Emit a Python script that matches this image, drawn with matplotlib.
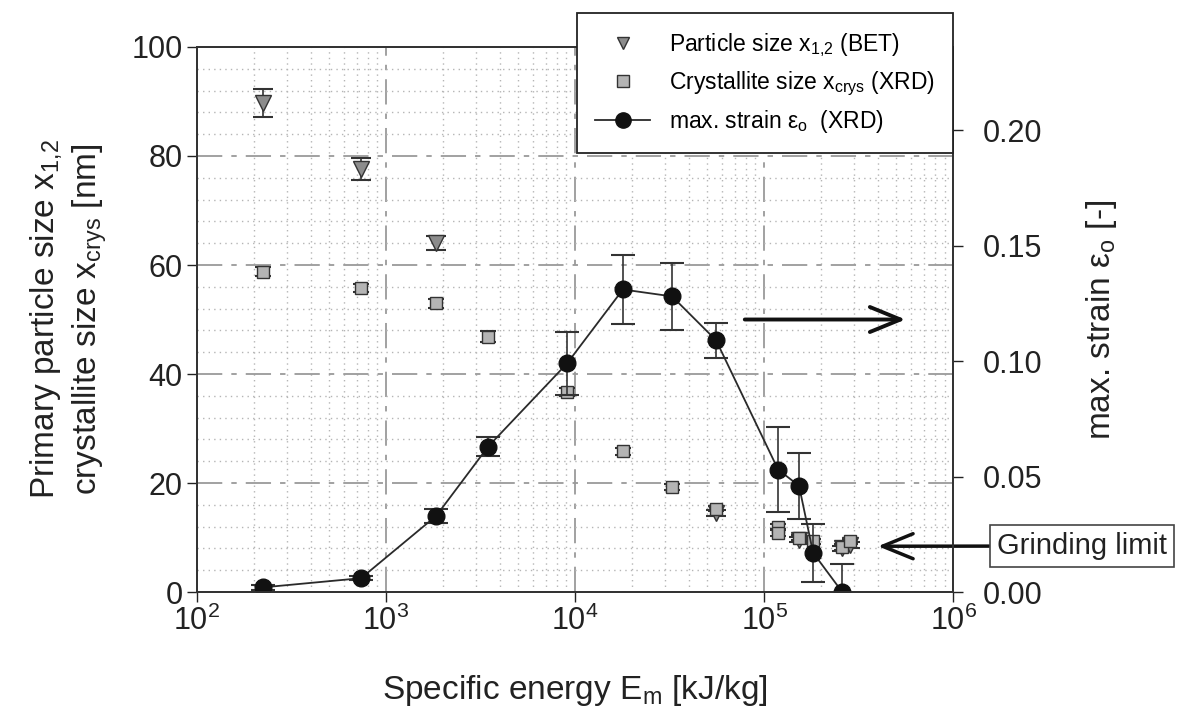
import numpy as np
import matplotlib
matplotlib.use("Agg")
import matplotlib.pyplot as plt
from matplotlib.lines import Line2D
from matplotlib.ticker import LogLocator, MultipleLocator, NullFormatter, FormatStrFormatter

plt.rcParams['font.family'] = ['Liberation Sans', 'DejaVu Sans']
plt.rcParams['mathtext.default'] = 'regular'

# specific energy [kJ/kg]
energy = [222, 738, 1843, 3470, 9070, 17900, 32600, 55700, 118600, 153000, 181600, 259000]

# max. strain (XRD), right axis
strain = [0.002, 0.006, 0.033, 0.063, 0.099, 0.131, 0.128, 0.109, 0.053, 0.046, 0.017, 0.0]
strain_err = [0.001, 0.001, 0.003, 0.004, 0.0137, 0.015, 0.0146, 0.0075, 0.0185, 0.0144, 0.0125, 0.012]

# crystallite size (XRD) [nm]
cryst_e = [222, 738, 1843, 3470, 9070, 17900, 32600, 55700, 118600, 118600, 153000, 181600, 259000, 285000]
cryst = [58.8, 55.8, 53.0, 46.8, 36.7, 25.8, 19.3, 15.3, 12.0, 10.8, 10.0, 9.3, 8.3, 9.3]
cryst_err = [0.8, 0.8, 0.8, 1.0, 0.7, 0.6, 0.6, 0.5, 0.5, 0.5, 0.5, 0.5, 0.5, 0.5]

# particle size x_1,2 (BET) [nm]
bet_e = [222, 738, 1843, 55700, 153000, 259000, 285000]
bet = [89.7, 77.6, 64.0, 14.5, 9.6, 8.0, 8.6]
bet_err = [2.5, 2.0, 1.3, 0.5, 0.5, 0.5, 0.5]

fig = plt.figure(figsize=(11.87, 7.25), dpi=100)
ax = fig.add_axes([0.166, 0.1834, 0.637, 0.7518])
ax2 = ax.twinx()

ax.set_xscale('log')
ax.set_xlim(1e2, 1e6)
ax.set_ylim(0, 100)
ax2.set_ylim(0, 0.236)

# grid
ax.set_axisbelow(True)
ax.xaxis.set_major_locator(LogLocator(base=10, numticks=10))
ax.xaxis.set_minor_locator(LogLocator(base=10, subs=np.arange(2, 10), numticks=20))
ax.xaxis.set_minor_formatter(NullFormatter())
ax.yaxis.set_major_locator(MultipleLocator(20))
ax.yaxis.set_minor_locator(MultipleLocator(4))
ax.grid(which='major', color='#9a9a9a', lw=1.3, linestyle=(0, (14, 5, 3, 5)))
ax.grid(which='minor', color='#b5b5b5', lw=1.0, linestyle=(0, (1, 3)))

ax.tick_params(which='major', direction='out', length=7, width=1, labelsize=22, colors='#222')
ax.tick_params(which='minor', length=0)
ax.tick_params(axis='x', pad=3)
ax2.yaxis.set_major_locator(MultipleLocator(0.05))
ax2.yaxis.set_major_formatter(FormatStrFormatter('%.2f'))
ax2.tick_params(direction='out', length=7, width=1, labelsize=22, colors='#222', pad=14)
for a in (ax, ax2):
    for s in a.spines.values():
        s.set_color('#333')
        s.set_linewidth(1.3)

# data
ax.errorbar(bet_e, bet, yerr=bet_err, fmt='v', ms=11, mfc='#8c8c8c', mec='#333',
            ecolor='#333', elinewidth=1.2, capsize=7, capthick=1.5)
ax.errorbar(cryst_e, cryst, yerr=cryst_err, fmt='s', ms=9, mfc='#b4b4b4', mec='#333',
            ecolor='#333', elinewidth=1.2, capsize=5.5, capthick=1.5)
ax2.errorbar(energy, strain, yerr=strain_err, fmt='-o', color='#2a2a2a', lw=1.3, ms=12,
             mfc='#111', mec='#111', ecolor='#333', elinewidth=1.2, capsize=8.5, capthick=1.5)

ax.set_xlabel('Specific energy E$_m$ [kJ/kg]', fontsize=24, labelpad=26, color='#222')
ax.set_ylabel('Primary particle size x$_{1{,}2}$\ncrystallite size x$_{crys}$ [nm]', fontsize=24,
              labelpad=16, color='#222', linespacing=1.25)
ax2.set_ylabel('max. strain $\\epsilon_o$ [-]', fontsize=24, labelpad=30, color='#222')

# legend
handles = [
    Line2D([], [], ls='none', marker='v', ms=9, mfc='#8c8c8c', mec='#333'),
    Line2D([], [], ls='none', marker='s', ms=8, mfc='#b4b4b4', mec='#333'),
    Line2D([], [], color='#2a2a2a', lw=1.3, marker='o', ms=11, mfc='#111', mec='#111'),
]
labels = ['Particle size x$_{1{,}2}$ (BET)', 'Crystallite size x$_{crys}$ (XRD)',
          'max. strain $\\epsilon_o$  (XRD)']
leg = ax2.legend(handles, labels, loc='upper right', bbox_to_anchor=(953 / 1187, 1 - 13 / 725),
                 bbox_transform=fig.transFigure, borderaxespad=0, fontsize=16.5, frameon=True,
                 fancybox=False, edgecolor='#222', framealpha=1, borderpad=0.8,
                 handlelength=2.4, handletextpad=0.8, labelspacing=0.45)
leg.get_frame().set_linewidth(1.3)

# arrow pointing to strain axis
ax.annotate('', xy=(5.6e5, 50), xytext=(7.9e4, 50),
            arrowprops=dict(arrowstyle='->,head_length=1.1,head_width=0.45', lw=2.8,
                            color='#111', mutation_scale=20, shrinkA=0, shrinkB=0))

# grinding limit label
ax.annotate('Grinding limit', xy=(4.0e5, 8.4), xycoords='data',
            xytext=(1082 / 1187, 1 - 546 / 725), textcoords='figure fraction',
            ha='center', va='center', fontsize=21, color='#222',
            bbox=dict(boxstyle='square,pad=0.25', fc='white', ec='#444', lw=1.2),
            arrowprops=dict(arrowstyle='->,head_length=1.1,head_width=0.45', lw=2.5,
                            color='#111', mutation_scale=20, shrinkA=0, shrinkB=0),
            annotation_clip=False)

fig.savefig('out.png', dpi=100)
